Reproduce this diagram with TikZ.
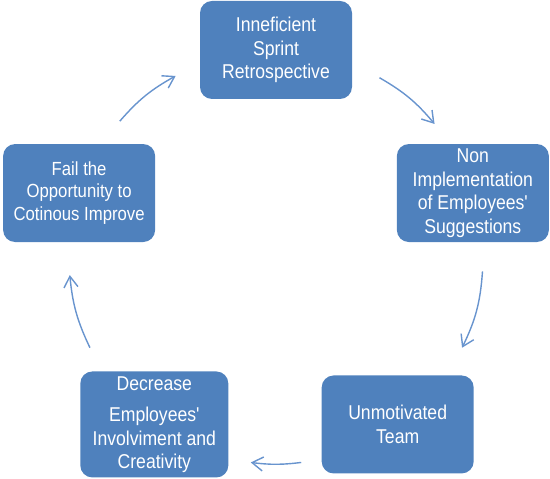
\documentclass[tikz,border=0pt]{standalone}
\usepackage{fontspec}
\newfontfamily\boxfont[FakeStretch=0.88]{Liberation Sans}
\usetikzlibrary{arrows.meta}
\definecolor{boxblue}{RGB}{79,129,189}
\definecolor{arrowblue}{RGB}{104,148,206}
\tikzset{retro box/.style={fill=boxblue, rounded corners=12pt, text=white, align=center,
    minimum width=152pt, minimum height=98pt, inner sep=0pt,
    font=\boxfont\fontsize{20}{23.5}\selectfont}}
\tikzset{flow arrow/.style={draw=arrowblue, line width=1.4pt,
    -{Straight Barb[length=11pt,width=14pt]}}}

\begin{document}
\begin{tikzpicture}[x=1pt,y=1pt]
\useasboundingbox (0,0) rectangle (550,479);
\coordinate (c) at (276,222);

\path  % Five boxes round the circle
  (c) +(90:207)   node[retro box] (retro) {Inneficient\\ Sprint\\ Retrospective}
      +(18:207)   node[retro box] (sugg)  {Non\\ Implementation\\ of Employees'\\ Suggestions}
      +(-54:207)  node[retro box] (team)  {Unmotivated\\ Team}
      +(-126:207) node[retro box, minimum height=106pt, minimum width=148pt] (decr)
                  {Decrease\\[8pt] Employees'\\ Involviment and\\ Creativity}
      +(162:207)  node[retro box, font=\boxfont\fontsize{19}{22.5}\selectfont] (fail)
                  {Fail the\\ Opportunity to\\ Cotinous Improve}
      ;

\path  % Ends of the arrows, on the same circle
  (c) +(139:207)  coordinate (failout)
      +(119:207)  coordinate (retroin)
      +(60:207)   coordinate (retroout)
      +(40:207)   coordinate (suggin)
      +(-4:207)   coordinate (suggout)
      +(-26:207)  coordinate (teamin)
      +(-83:207)  coordinate (teamout)
      +(-97:207)  coordinate (decrin)
      +(-154:207) coordinate (decrout)
      +(-175:207) coordinate (failin)
      ;

% Arrows of the cycle
\draw[flow arrow] (failout)  to[bend left=10] (retroin);
\draw[flow arrow] (retroout) to[bend left=10] (suggin);
\draw[flow arrow] (suggout)  to[bend left=11] (teamin);
\draw[flow arrow] (teamout)  to[bend left=7]  (decrin);
\draw[flow arrow] (decrout)  to[bend left=10] (failin);

\end{tikzpicture}
\end{document}
